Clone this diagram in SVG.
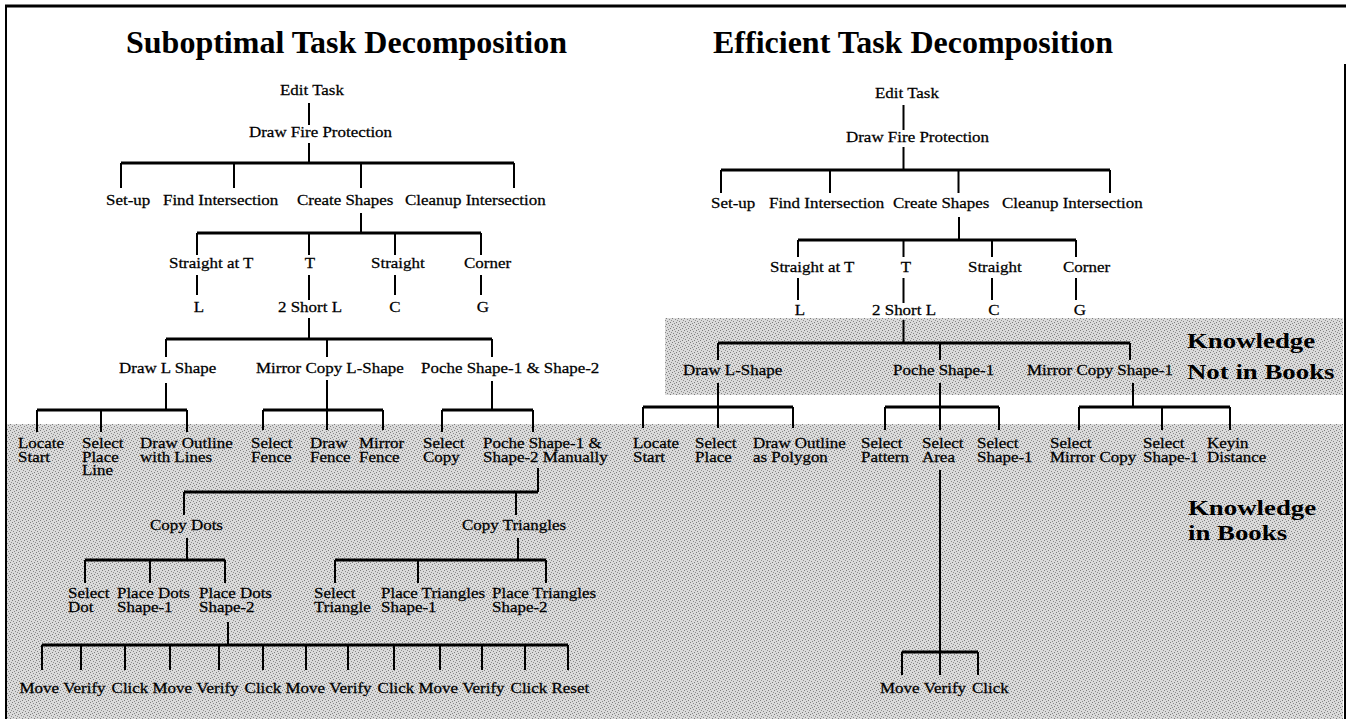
<svg xmlns="http://www.w3.org/2000/svg" width="1348" height="719" viewBox="0 0 1348 719">
<defs>
<pattern id="dith" width="6" height="6" patternUnits="userSpaceOnUse">
<rect width="6" height="6" fill="#dadada"/>
<rect x="0" y="0" width="1" height="1" fill="#7c7c7c"/>
<rect x="3" y="1" width="1" height="1" fill="#8a8a8a"/>
<rect x="1" y="3" width="1" height="1" fill="#858585"/>
<rect x="4" y="4" width="1" height="1" fill="#7c7c7c"/>
<rect x="5" y="2" width="1" height="1" fill="#909090"/>
<rect x="2" y="5" width="1" height="1" fill="#888888"/>
</pattern>
<style>
text { font-family: "Liberation Serif", "Times New Roman", serif; fill: #000; }
.t { font-size: 32px; font-weight: bold; }
.s, .n { font-size: 15px; stroke: #000; stroke-width: 0.25; transform-box: fill-box; transform: scaleX(1.13); }
.s { transform-origin: left center; }
.n { text-anchor: middle; transform-origin: center; }
.k { font-size: 22px; font-weight: bold; transform-box: fill-box; transform-origin: left center; transform: scaleX(1.22); }
.v { stroke: #000; stroke-width: 2; fill: none; }
.h { stroke: #000; stroke-width: 3; fill: none; }
</style>
</defs>
<rect width="1348" height="719" fill="#fff"/>
<g id="shading">
<rect x="665" y="318" width="678" height="77" fill="url(#dith)"/>
<rect x="7" y="424" width="1336" height="295" fill="url(#dith)"/>
</g>
<g id="frame">
<line class="h" x1="5" y1="6" x2="1346" y2="6"/>
<line class="v" x1="6" y1="5" x2="6" y2="719"/>
<line class="v" x1="1345" y1="64" x2="1345" y2="719"/>
</g>
<g id="connectors">
<path class="v" d="M309 103V125 M309 143V163"/>
<path class="h" d="M121 163H514"/>
<path class="v" d="M121 163V188 M234 163V188 M361 163V188 M514 163V188 M361 213V233"/>
<path class="h" d="M197 233H481"/>
<path class="v" d="M197 233V255 M309 233V255 M395 233V255 M481 233V255 M197 275V295 M309 275V300 M395 275V295 M481 275V295 M309 318V339"/>
<path class="h" d="M166 339H492"/>
<path class="v" d="M166 339V357 M327 339V357 M492 339V357 M166 383V410 M327 380V410 M492 381V410"/>
<path class="h" d="M37 410H187 M263 410H383 M442 410H533"/>
<path class="v" d="M37 410V432 M101 410V432 M187 410V432 M263 410V430 M327 410V430 M383 410V430 M442 410V432 M533 410V432 M538 468V492"/>
<path class="h" d="M184 492H538"/>
<path class="v" d="M184 492V515 M516 492V515 M187 538V560 M518 538V560"/>
<path class="h" d="M85 560H225 M335 560H546"/>
<path class="v" d="M85 560V583 M150 560V583 M225 560V583 M335 560V583 M418 560V583 M546 560V583 M228 622V645"/>
<path class="h" d="M42 645H568"/>
<path class="v" d="M42 645V670 M81 645V670 M125 645V670 M170 645V670 M219 645V670 M263 645V670 M306 645V670 M348 645V670 M394 645V670 M440 645V670 M482 645V670 M525 645V670 M568 645V670"/>
<path class="v" d="M903.5 105V130 M903.5 147V170"/>
<path class="h" d="M721 170H1110"/>
<path class="v" d="M721 170V193 M830 170V193 M958.5 170V193 M1110 170V193 M959 217V240"/>
<path class="h" d="M798 240H1076"/>
<path class="v" d="M798 240V257 M903.5 240V257 M992 240V257 M1076 240V257 M798 278V300 M903.5 278V303 M992 278V300 M1076 278V300 M903.5 320V343"/>
<path class="h" d="M718 343H1130"/>
<path class="v" d="M718 343V360 M940 343V360 M1130 343V360 M718 383V407 M940 383V407 M1133 383V407"/>
<path class="h" d="M643 407H793 M885 407H999 M1079 407H1230"/>
<path class="v" d="M643 407V428 M718 407V428 M793 407V428 M885 407V430 M940 407V430 M999 407V430 M1079 407V430 M1162 407V430 M1230 407V430 M940 470V652"/>
<path class="h" d="M902 652H978"/>
<path class="v" d="M902 652V675 M940 652V675 M978 652V675"/>
</g>
<g id="titles">
<g id="title-left"><text class="t" x="126" y="53">Suboptimal Task Decomposition</text></g>
<g id="title-right"><text class="t" x="713" y="53">Efficient Task Decomposition</text></g>
</g>
<g id="zone-labels">
<g id="knowledge-not-in-books"><text class="k" x="1187" y="348">Knowledge</text><text class="k" x="1187" y="379">Not in Books</text></g>
<g id="knowledge-in-books"><text class="k" x="1188" y="515">Knowledge</text><text class="k" x="1188" y="540">in Books</text></g>
</g>
<g id="left-tree">
<g id="L-edit"><text class="s" x="280" y="95">Edit Task</text></g>
<g id="L-dfp"><text class="s" x="249" y="137">Draw Fire Protection</text></g>
<g id="L-setup"><text class="s" x="106" y="205">Set-up</text></g>
<g id="L-find"><text class="s" x="163" y="205">Find Intersection</text></g>
<g id="L-create"><text class="s" x="297" y="205">Create Shapes</text></g>
<g id="L-cleanup"><text class="s" x="405" y="205">Cleanup Intersection</text></g>
<g id="L-sat"><text class="s" x="169" y="268">Straight at T</text></g>
<g id="L-T"><text class="n" x="310" y="268">T</text></g>
<g id="L-straight"><text class="s" x="371" y="268">Straight</text></g>
<g id="L-corner"><text class="s" x="464" y="268">Corner</text></g>
<g id="L-L"><text class="n" x="199" y="312">L</text></g>
<g id="L-2short"><text class="s" x="278" y="312">2 Short L</text></g>
<g id="L-C"><text class="n" x="395" y="312">C</text></g>
<g id="L-G"><text class="n" x="483" y="312">G</text></g>
<g id="L-drawL"><text class="s" x="119" y="373">Draw L Shape</text></g>
<g id="L-mirror"><text class="s" x="256" y="373">Mirror Copy L-Shape</text></g>
<g id="L-poche"><text class="s" x="421" y="373">Poche Shape-1 &amp; Shape-2</text></g>
<g id="L-locate"><text class="s" x="18" y="448">Locate<tspan x="18" y="462">Start</tspan></text></g>
<g id="L-selplace"><text class="s" x="82" y="448">Select<tspan x="82" y="462">Place</tspan><tspan x="82" y="475.5">Line</tspan></text></g>
<g id="L-outline"><text class="s" x="140" y="448">Draw Outline<tspan x="140" y="462">with Lines</tspan></text></g>
<g id="L-selfence"><text class="s" x="251" y="448">Select<tspan x="251" y="462">Fence</tspan></text></g>
<g id="L-drawfence"><text class="s" x="310" y="448">Draw<tspan x="310" y="462">Fence</tspan></text></g>
<g id="L-mirrorfence"><text class="s" x="359" y="448">Mirror<tspan x="359" y="462">Fence</tspan></text></g>
<g id="L-selcopy"><text class="s" x="423" y="448">Select<tspan x="423" y="462">Copy</tspan></text></g>
<g id="L-manual"><text class="s" x="483" y="448">Poche Shape-1 &amp;<tspan x="483" y="462">Shape-2 Manually</tspan></text></g>
<g id="L-copydots"><text class="s" x="150" y="530">Copy Dots</text></g>
<g id="L-copytri"><text class="s" x="462" y="530">Copy Triangles</text></g>
<g id="L-seldot"><text class="s" x="68" y="598">Select<tspan x="68" y="612">Dot</tspan></text></g>
<g id="L-pd1"><text class="s" x="117" y="598">Place Dots<tspan x="117" y="612">Shape-1</tspan></text></g>
<g id="L-pd2"><text class="s" x="199" y="598">Place Dots<tspan x="199" y="612">Shape-2</tspan></text></g>
<g id="L-seltri"><text class="s" x="314" y="598">Select<tspan x="314" y="612">Triangle</tspan></text></g>
<g id="L-pt1"><text class="s" x="381" y="598">Place Triangles<tspan x="381" y="612">Shape-1</tspan></text></g>
<g id="L-pt2"><text class="s" x="492" y="598">Place Triangles<tspan x="492" y="612">Shape-2</tspan></text></g>
<g id="L-m1"><text class="s" x="19.5" y="693">Move</text></g>
<g id="L-v1"><text class="s" x="63.2" y="693">Verify</text></g>
<g id="L-c1"><text class="s" x="111.6" y="693">Click</text></g>
<g id="L-m2"><text class="s" x="152.5" y="693">Move</text></g>
<g id="L-v2"><text class="s" x="196.2" y="693">Verify</text></g>
<g id="L-c2"><text class="s" x="244.6" y="693">Click</text></g>
<g id="L-m3"><text class="s" x="285.5" y="693">Move</text></g>
<g id="L-v3"><text class="s" x="329.2" y="693">Verify</text></g>
<g id="L-c3"><text class="s" x="377.6" y="693">Click</text></g>
<g id="L-m4"><text class="s" x="418.5" y="693">Move</text></g>
<g id="L-v4"><text class="s" x="462.2" y="693">Verify</text></g>
<g id="L-c4"><text class="s" x="510.6" y="693">Click</text></g>
<g id="L-reset"><text class="s" x="551.5" y="693">Reset</text></g>
</g>
<g id="right-tree">
<g id="R-edit"><text class="s" x="875" y="98">Edit Task</text></g>
<g id="R-dfp"><text class="s" x="846" y="142">Draw Fire Protection</text></g>
<g id="R-setup"><text class="s" x="711" y="208">Set-up</text></g>
<g id="R-find"><text class="s" x="769" y="208">Find Intersection</text></g>
<g id="R-create"><text class="s" x="893" y="208">Create Shapes</text></g>
<g id="R-cleanup"><text class="s" x="1002" y="208">Cleanup Intersection</text></g>
<g id="R-sat"><text class="s" x="770" y="272">Straight at T</text></g>
<g id="R-T"><text class="n" x="906" y="272">T</text></g>
<g id="R-straight"><text class="s" x="968" y="272">Straight</text></g>
<g id="R-corner"><text class="s" x="1063" y="272">Corner</text></g>
<g id="R-L"><text class="n" x="800" y="315">L</text></g>
<g id="R-2short"><text class="s" x="872" y="315">2 Short L</text></g>
<g id="R-C"><text class="n" x="994" y="315">C</text></g>
<g id="R-G"><text class="n" x="1080" y="315">G</text></g>
<g id="R-drawL"><text class="s" x="683" y="375">Draw L-Shape</text></g>
<g id="R-poche"><text class="s" x="893" y="375">Poche Shape-1</text></g>
<g id="R-mirror"><text class="s" x="1027" y="375">Mirror Copy Shape-1</text></g>
<g id="R-locate"><text class="s" x="633" y="448">Locate<tspan x="633" y="462">Start</tspan></text></g>
<g id="R-selplace"><text class="s" x="695" y="448">Select<tspan x="695" y="462">Place</tspan></text></g>
<g id="R-outline"><text class="s" x="753" y="448">Draw Outline<tspan x="753" y="462">as Polygon</tspan></text></g>
<g id="R-selpattern"><text class="s" x="861" y="448">Select<tspan x="861" y="462">Pattern</tspan></text></g>
<g id="R-selarea"><text class="s" x="922" y="448">Select<tspan x="922" y="462">Area</tspan></text></g>
<g id="R-selshape1a"><text class="s" x="977" y="448">Select<tspan x="977" y="462">Shape-1</tspan></text></g>
<g id="R-selmirror"><text class="s" x="1050" y="448">Select<tspan x="1050" y="462">Mirror Copy</tspan></text></g>
<g id="R-selshape1b"><text class="s" x="1143" y="448">Select<tspan x="1143" y="462">Shape-1</tspan></text></g>
<g id="R-keyin"><text class="s" x="1207" y="448">Keyin<tspan x="1207" y="462">Distance</tspan></text></g>
<g id="R-move"><text class="s" x="880" y="693">Move</text></g>
<g id="R-verify"><text class="s" x="923.7" y="693">Verify</text></g>
<g id="R-click"><text class="s" x="972" y="693">Click</text></g>
</g>
</svg>
